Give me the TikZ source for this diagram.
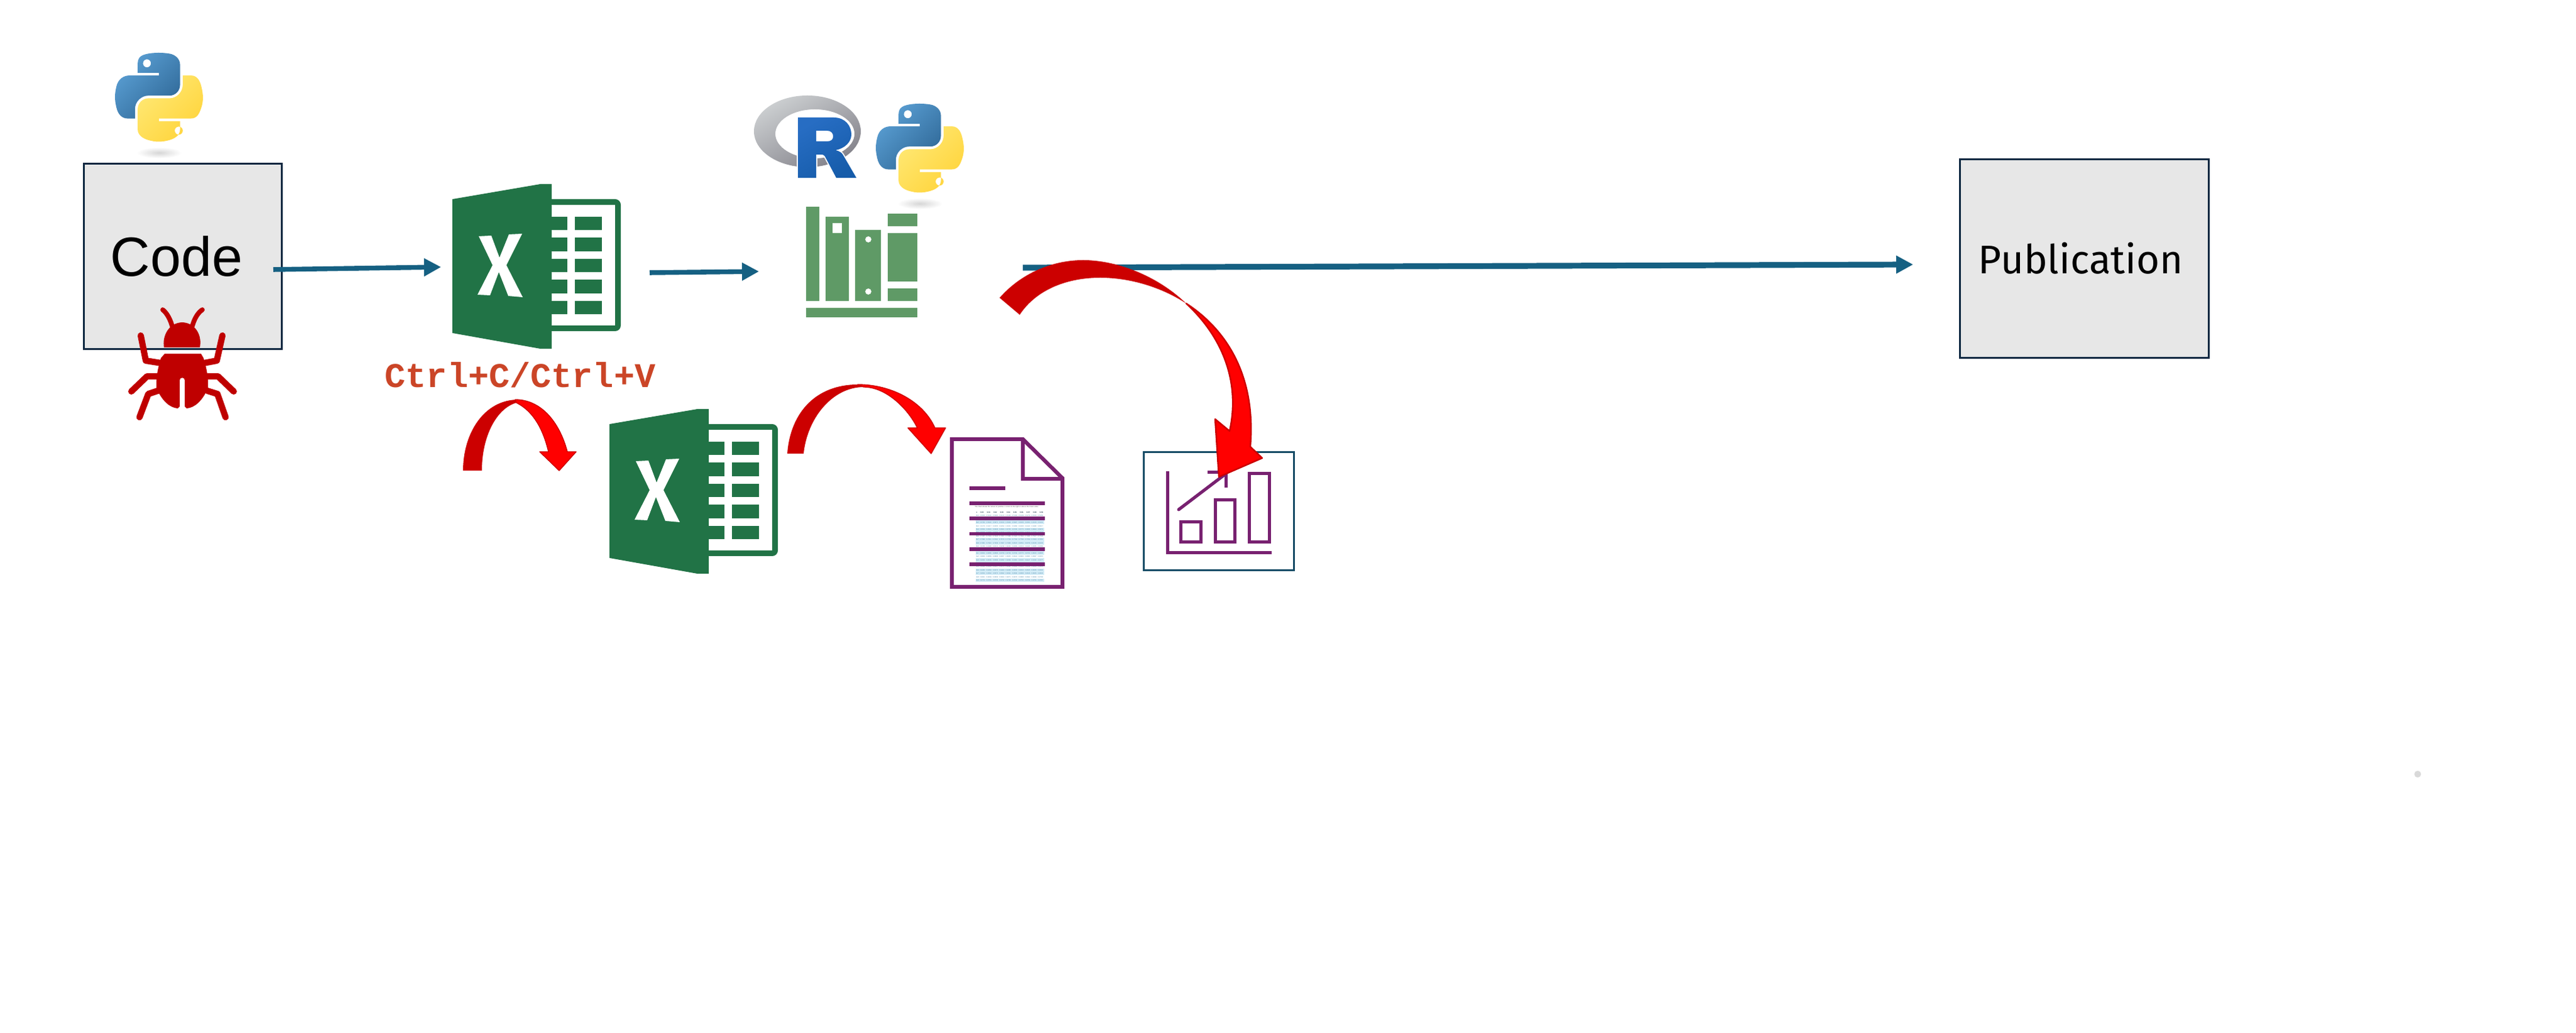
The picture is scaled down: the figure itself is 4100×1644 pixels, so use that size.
\documentclass[tikz,border=0pt]{standalone}
\usepackage{fontspec}
\setmainfont{Liberation Sans}
\newfontfamily\pubfont{Fira Sans}
\newfontfamily\monobold[BoldFont={Liberation Mono Bold}]{Liberation Mono}
\usetikzlibrary{arrows.meta,svg.path,shapes.geometric}
\definecolor{navy}{HTML}{0E2841}
\definecolor{boxgrey}{HTML}{E7E7E7}
\definecolor{flow}{HTML}{156082}
\definecolor{xlgreen}{HTML}{217346}
\definecolor{bookgreen}{HTML}{5F9A66}
\definecolor{bugred}{HTML}{BF0000}
\definecolor{ctrltext}{HTML}{CB4527}
\definecolor{redA}{HTML}{CC0000}
\definecolor{redB}{HTML}{FF0000}
\definecolor{purp}{HTML}{782170}
\definecolor{chartbox}{HTML}{174C66}
\definecolor{rowblue}{HTML}{D3ECF7}
\definecolor{rowtext}{HTML}{4A86A8}
\definecolor{pyblueL}{HTML}{5A9FD4}
\definecolor{pyblueD}{HTML}{306998}
\definecolor{pyyellL}{HTML}{FFE873}
\definecolor{pyyellD}{HTML}{FFD43B}
\definecolor{ringL}{HTML}{CBCED0}
\definecolor{ringD}{HTML}{84838B}
\definecolor{rblueL}{HTML}{276DC3}
\definecolor{rblueD}{HTML}{165CAA}
\tikzset{
  procbox/.style={draw=navy,fill=boxgrey,line width=.75pt,inner sep=0pt,text=black},
  flowline/.style={draw=flow,line width=1.9pt,-{Triangle[length=6.75pt,width=6.75pt]}},
  curvdark/.style={fill=redA},
  curvbright/.style={fill=redB,draw=redA,line width=.35pt,line join=round},
  bugleg/.style={draw=bugred,line width=2.5pt,line cap=round,line join=round},
  bugant/.style={draw=bugred,line width=1.9pt,line cap=round},
  cellfill/.style={fill=xlgreen},
  bookfill/.style={fill=bookgreen},
  purpline/.style={draw=purp,line width=1.25pt},
  purpbar/.style={fill=purp},
  pythonlogo/.pic={
    \shade[inner color=black!16,outer color=white] (70,159) ellipse [x radius=9pt,y radius=2.2pt];
    \begin{scope}[cm={0.3147,0,0,-0.3147,(0pt,0pt)}]
    \path[even odd rule,top color=pyblueL,bottom color=pyblueD,shading angle=45] svg {M 54.918785,0 C 50.335132,0.02221727 45.957846,0.41313697 42.106285,1.0946693 30.760069,3.0991731 28.700036,7.2947714 28.700035,15.032169 v 10.21875 h 26.8125 v 3.40625 h -26.8125 -10.0625 c -7.792459,0 -14.6157588,4.683717 -16.7499998,13.59375 -2.46181998,10.212966 -2.57101508,16.586023 0,27.25 1.9059283,7.937852 6.4575432,13.593748 14.2499998,13.59375 h 9.21875 v -12.25 c 0,-8.849902 7.657144,-16.656248 16.75,-16.65625 h 26.78125 c 7.454951,0 13.406253,-6.138164 13.40625,-13.625 v -25.53125 c 0,-7.2663386 -6.12998,-12.7247771 -13.40625,-13.9374997 C 64.281548,0.32794397 59.502438,-0.02037903 54.918785,0 Z m -14.5,8.21875 c 2.769547,0 5.03125,2.2986456 5.03125,5.1249996 -0.000002,2.816336 -2.261703,5.09375 -5.03125,5.09375 -2.779476,-0.000001 -5.03125,-2.277415 -5.03125,-5.09375 -0.000001,-2.826353 2.251774,-5.1249996 5.03125,-5.1249996 z};
    \path[even odd rule,top color=pyyellL,bottom color=pyyellD,shading angle=45] svg {M 85.637535,28.657169 v 11.90625 c 0,9.230755 -7.825895,16.999999 -16.75,17 h -26.78125 c -7.335833,0 -13.406249,6.278483 -13.40625,13.625 v 25.531247 c 0,7.266344 6.318588,11.540324 13.40625,13.625004 8.487331,2.49561 16.626237,2.94663 26.78125,0 6.750155,-1.95439 13.406253,-5.88761 13.40625,-13.625004 V 86.500919 h -26.78125 v -3.40625 h 26.78125 13.406254 c 7.792461,0 10.696251,-5.435408 13.406241,-13.59375 2.79933,-8.398886 2.74022,-16.475776 0,-27.25 -1.92578,-7.757441 -5.60387,-13.59375 -13.406241,-13.59375 z m -15.0625,64.65625 c 2.779478,0.000003 5.03125,2.277417 5.03125,5.093747 -0.000002,2.826354 -2.251775,5.125004 -5.03125,5.125004 -2.76955,0 -5.03125,-2.29865 -5.03125,-5.125004 0.000002,-2.81633 2.261697,-5.093747 5.03125,-5.093747 z};
    \end{scope}
  },
  excelicon/.pic={
    \fill[xlgreen,rounded corners=2.2pt] (130,24) rectangle (268,234);
    \fill[white] (150,33) rectangle (259,225);
    \fill[xlgreen] (0,24) -- (140,0) -- (158,0) -- (158,262) -- (140,262) -- (0,237) -- cycle;
    \foreach \ya/\yb in {52/73,85/107,119/140,152/174,186/207}{
      \fill[cellfill] (158,\ya) rectangle (183,\yb);
      \fill[cellfill] (195,\ya) rectangle (238,\yb);
    }
    \fill[white] (42,83) -- (62,82) -- (75,117) -- (90,80) -- (111,79) -- (86,129) -- (112,180) -- (89,178) -- (74,140) -- (60,177) -- (40,176) -- (64,129) -- cycle;
  }
}
\begin{document}
\begin{tikzpicture}[x=0.25pt,y=-0.25pt]
\useasboundingbox (0,0) rectangle (4100,1644);
\fill[white] (0,0) rectangle (4100,1644);

% boxes
\node[procbox,minimum width=78.75pt,minimum height=73.75pt,font=\fontsize{22pt}{24pt}\selectfont] (code) at (291,408) {\hspace*{-5pt}Code};
\node[procbox,minimum width=99pt,minimum height=79pt,font=\pubfont\fontsize{15.9pt}{18pt}\selectfont] (pub) at (3317,411.5) {\hspace*{-2.5pt}\raisebox{.6pt}{Publication}};

% connector ends
\coordinate (a1s) at (435,429);
\coordinate (a1e) at (702,425);
\coordinate (a2s) at (1034,434);
\coordinate (a2e) at (1208,432);
\coordinate (a3s) at (1628,426);
\coordinate (a3e) at (3045,421);
\draw[flowline] (a1s) -- (a1e);
\draw[flowline] (a2s) -- (a2e);
\draw[flowline,line width=2.3pt] (a3s) -- (a3e);

% python logos
\pic (pyA) at (183,84) {pythonlogo};
\pic (pyB) at (1394,165) {pythonlogo};

% bug
\draw[bugant] (274,519) .. controls (270,505) and (264,497) .. (259,493);
\draw[bugant] (306,519) .. controls (310,505) and (316,497) .. (322,493);
\fill[bugred] (261,553) .. controls (258,535) and (268,514) .. (290,513) .. controls (312,514) and (322,535) .. (318,553) -- cycle;
\fill[bugred] (262,563) -- (320,563) -- (324,570) .. controls (330,590) and (332,605) .. (331,618) .. controls (322,638) and (310,649) .. (297,650) -- (294,647) -- (294,605) .. controls (294,600) and (286,600) .. (286,605) -- (286,647) -- (283,650) .. controls (270,649) and (258,638) .. (249,618) .. controls (248,605) and (250,590) .. (256,570) -- cycle;
\draw[bugleg] (224,534) -- (232,574) -- (257,578);
\draw[bugleg] (354,534) -- (345,574) -- (324,578);
\draw[bugleg] (209,623) -- (234,599) -- (251,599);
\draw[bugleg] (372,623) -- (347,599) -- (330,599);
\draw[bugleg] (222,664) -- (236,627) -- (251,622);
\draw[bugleg] (359,664) -- (346,627) -- (330,622);

% excel
\pic (xlA) at (720,293) {excelicon};
\pic (xlB) at (970,651) {excelicon};

% Ctrl text
\node[anchor=base,inner sep=0pt,text=ctrltext,font=\monobold\bfseries\fontsize{13.8pt}{16pt}\selectfont] (ctrl) at (828,617) {Ctrl+C/Ctrl+V};

% R logo
\path[even odd rule,top color=ringL,bottom color=ringD,shading angle=30] (1285,209) ellipse [x radius=21.25pt,y radius=14.25pt] (1297,213) ellipse [x radius=15.75pt,y radius=9.75pt];
\def\rletter{(1270,187) -- (1327,187) .. controls (1345,187) and (1355,200) .. (1355,214) .. controls (1355,226) and (1345,236) .. (1330,239) .. controls (1337,241) and (1340,243) .. (1342,247) -- (1363,283) -- (1331,283) -- (1313,249) .. controls (1311,246) and (1309,246) .. (1305,246) -- (1299,246) -- (1299,283) -- (1270,283) -- cycle (1299,208) -- (1316,208) .. controls (1323,208) and (1326,212) .. (1326,217) .. controls (1326,222) and (1323,225) .. (1316,225) -- (1299,225) -- cycle}
\draw[white,line width=.9pt] \rletter;
\path[even odd rule,top color=rblueL,bottom color=rblueD,shading angle=30] \rletter;

% books
\fill[bookfill] (1283,329) rectangle (1304,479);
\fill[bookfill,even odd rule] (1314,345) rectangle (1351,479) (1325,355) rectangle (1340,371);
\fill[bookfill,even odd rule] (1361,366) rectangle (1402,479) (1382,381) circle [radius=1.25pt] (1382,464) circle [radius=1.25pt];
\fill[bookfill] (1413,340) rectangle (1460,360);
\fill[bookfill] (1413,371) rectangle (1460,448);
\fill[bookfill] (1413,459) rectangle (1460,479);
\fill[bookfill] (1283,490) rectangle (1460,505);

% document icon
\foreach \i/\vals [count=\n from 0] in {
0.0/0.5000 0.5040 0.5080 0.5120 0.5160 0.5199 0.5239 0.5279 0.5319 0.5359,
0.1/0.5398 0.5438 0.5478 0.5517 0.5557 0.5596 0.5636 0.5675 0.5714 0.5753,
0.2/0.5793 0.5832 0.5871 0.5910 0.5948 0.5987 0.6026 0.6064 0.6103 0.6141,
0.3/0.6179 0.6217 0.6255 0.6293 0.6331 0.6368 0.6406 0.6443 0.6480 0.6517,
0.4/0.6554 0.6591 0.6628 0.6664 0.6700 0.6736 0.6772 0.6808 0.6844 0.6879,
0.5/0.6915 0.6950 0.6985 0.7019 0.7054 0.7088 0.7123 0.7157 0.7190 0.7224,
0.6/0.7257 0.7291 0.7324 0.7357 0.7389 0.7422 0.7454 0.7486 0.7517 0.7549,
0.7/0.7580 0.7611 0.7642 0.7673 0.7704 0.7734 0.7764 0.7794 0.7823 0.7852,
0.8/0.7881 0.7910 0.7939 0.7967 0.7995 0.8023 0.8051 0.8078 0.8106 0.8133,
0.9/0.8159 0.8186 0.8212 0.8238 0.8264 0.8289 0.8315 0.8340 0.8365 0.8389,
1.0/0.8413 0.8438 0.8461 0.8485 0.8508 0.8531 0.8554 0.8577 0.8599 0.8621,
1.1/0.8643 0.8665 0.8686 0.8708 0.8729 0.8749 0.8770 0.8790 0.8810 0.8830,
1.2/0.8849 0.8869 0.8888 0.8907 0.8925 0.8944 0.8962 0.8980 0.8997 0.9015,
1.3/0.9032 0.9049 0.9066 0.9082 0.9099 0.9115 0.9131 0.9147 0.9162 0.9177,
1.4/0.9192 0.9207 0.9222 0.9236 0.9251 0.9265 0.9279 0.9292 0.9306 0.9319,
1.5/0.9332 0.9345 0.9357 0.9370 0.9382 0.9394 0.9406 0.9418 0.9429 0.9441,
1.6/0.9452 0.9463 0.9474 0.9484 0.9495 0.9505 0.9515 0.9525 0.9535 0.9545,
1.7/0.9554 0.9564 0.9573 0.9582 0.9591 0.9599 0.9608 0.9616 0.9625 0.9633,
1.8/0.9641 0.9649 0.9656 0.9664 0.9671 0.9678 0.9686 0.9693 0.9699 0.9706,
1.9/0.9713 0.9719 0.9726 0.9732 0.9738 0.9744 0.9750 0.9756 0.9761 0.9767}{
  \pgfmathsetmacro{\ry}{821+5.4*\n}
  \pgfmathtruncatemacro{\odd}{mod(\n,3)==0 ? 0 : 1}
  \ifnum\odd=1 \fill[rowblue] (1552.5,\ry-2.7) rectangle (1662,\ry+2.7); \fi
  \node[inner sep=0pt,text=rowtext,font=\fontsize{0.68pt}{0.8pt}\selectfont] (zrow\n) at (1607,\ry) {\makebox[26.6pt][s]{\textbf{\i} \vals}};
}
\node[inner sep=0pt,text=navy,font=\bfseries\fontsize{0.68pt}{0.8pt}\selectfont] (zhead) at (1607,816) {\makebox[26.6pt][s]{z 0.00 0.01 0.02 0.03 0.04 0.05 0.06 0.07 0.08 0.09}};
\node[inner sep=0pt,text=black!70,font=\fontsize{0.68pt}{0.8pt}\selectfont] (zcap) at (1602,807) {The chart shows the values of positive z scores to the right or above the mean value};
\draw[purp,line width=1.5pt,miter limit=10] (1515,699) -- (1628,699) -- (1691,761) -- (1691,934) -- (1515,934) -- cycle;
\draw[purp,line width=1.5pt] (1628,699) -- (1628,762) -- (1691,762);
\fill[purpbar] (1543,774) rectangle (1600,780);
\fill[purpbar] (1543,798) rectangle (1663,804);
\fill[purpbar] (1543,822.5) rectangle (1663,828);
\fill[purpbar] (1543,847) rectangle (1663,852.5);
\fill[purpbar] (1543,871) rectangle (1663,877);
\fill[purpbar] (1543,895) rectangle (1663,901);

% chart icon
\draw[chartbox,line width=.75pt] (1820,720) rectangle (2059,908);
\draw[purpline,line join=miter] (1858,750) -- (1858,880) -- (2024,880);
\draw[purpline] (1879,831) rectangle (1911,863);
\draw[purpline] (1934,796) rectangle (1965,863);
\draw[purpline] (1988,754) rectangle (2020,863);
\draw[purpline,line cap=round] (1876,811) -- (1951,754);
\draw[purpline] (1922,752) -- (1953,752);
\draw[purpline] (1951,752) -- (1951,776);

% curved red arrows
\fill[curvdark] (737,749) .. controls (737,690) and (770,636) .. (825,636) -- (822,641) .. controls (790,650) and (767,695) .. (767,749) -- cycle;
\path[curvbright] (820,636) .. controls (860,636) and (890,670) .. (903,719) -- (917,719) -- (890,749) -- (859,719) -- (873,719) .. controls (865,685) and (850,655) .. (822,641) -- cycle;
\fill[curvdark] (1253,722) .. controls (1258,655) and (1300,612) .. (1365,612) -- (1375,616) .. controls (1325,616) and (1285,665) .. (1279,722) -- cycle;
\path[curvbright] (1365,612) .. controls (1420,612) and (1470,640) .. (1488,681) -- (1505,681) -- (1482,722) -- (1445,681) -- (1460,681) .. controls (1445,650) and (1410,616) .. (1375,616) -- cycle;
\fill[curvdark] (1591,474) .. controls (1625,435) and (1675,414) .. (1724,414) .. controls (1775,414) and (1840,437) .. (1888,483) .. controls (1850,458) and (1800,442) .. (1751,442) .. controls (1700,442) and (1650,460) .. (1623,501) -- cycle;
\path[curvbright,line width=.6pt] (1888,483) .. controls (1945,520) and (2000,590) .. (1990,711) -- (2009,729) -- (1940,759) -- (1934,667) -- (1957,686) .. controls (1972,620) and (1955,545) .. (1888,483) -- cycle;

% stray dot
\fill[black!15] (3848,1232) circle [radius=1.35pt];
\end{tikzpicture}
\end{document}
